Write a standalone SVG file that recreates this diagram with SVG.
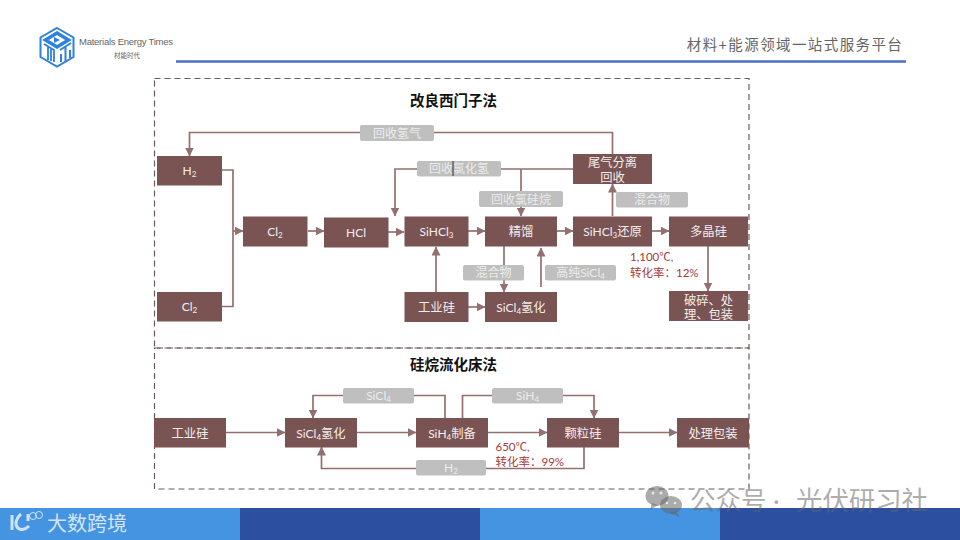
<svg xmlns="http://www.w3.org/2000/svg" width="960" height="540" viewBox="0 0 960 540">
<style>
text{font-family:"Lato","Noto Sans CJK SC",sans-serif}
.n rect{fill:#7a5353;stroke:none}
.n text{fill:#f3eeee;font-size:12px;text-anchor:middle}
.big text{font-size:12.300px}
.s{font-size:8px}
.c path{fill:none;stroke:#946f71;stroke-width:1.7}
.l rect{fill:#bfbfbf;stroke:none}
.l text{fill:#ececec;font-size:12px;text-anchor:middle}
.d{fill:none;stroke:#6d5a5c;stroke-width:1.2;stroke-dasharray:6 4}
.t{font-size:14.500px;font-weight:700;fill:#111;text-anchor:middle;font-family:"Noto Sans CJK SC",sans-serif}
.r{fill:#a63a3a;font-size:11.500px}
.b{fill:#4494e2}
</style>
<defs>
<marker id="a" markerUnits="userSpaceOnUse" markerWidth="10" markerHeight="10" refX="8.500" refY="4.500" orient="auto"><path d="M0 0L9 4.500L0 9Z" fill="#946f71"/></marker>
</defs>
<rect width="960" height="540" fill="#fff"/>

<g id="header">
<g id="logo" fill="none" stroke="#2f80e0">
<path d="M57 28L73.500 37.500V57L57 66.500L40.500 57V37.500Z" stroke-width="2"/>
<path d="M57 33L68.500 40L57 47L45.500 40Z" stroke-width="3.500"/>
<path d="M54 37L60 40L54 43Z" fill="#2f80e0" stroke="none"/>
<path d="M44 44L54 50V62M48 47V60M51 49V61" stroke-width="1.800"/>
<path d="M60 50L71 43M65.500 47V62M61 54V62M70 50V58" stroke-width="2"/>
</g>
<text x="79" y="45" font-size="9.500" fill="#666" textLength="94" style="font-family:'Liberation Sans',sans-serif">Materials Energy Times</text>
<text x="127" y="58" font-size="6.500" fill="#666" text-anchor="middle">材能时代</text>
<text x="795" y="50" font-size="14.500" fill="#666" text-anchor="middle" letter-spacing="1.400">材料+能源领域一站式服务平台</text>
<path d="M176 61.500H906" stroke="#4a72c0" stroke-width="2.600"/>
</g>

<g id="frames">
<rect class="d" x="154.500" y="78.500" width="594.500" height="269.500"/>
<rect class="d" x="154.500" y="348" width="594.500" height="141"/>
</g>

<text class="t" x="453.500" y="106">改良西门子法</text>
<text class="t" x="453.500" y="370">硅烷流化床法</text>

<g id="connectors" class="c">
<path d="M612.500 154V132.500H189.500V156" marker-end="url(#a)"/>
<path d="M573 169H395V216" marker-end="url(#a)"/>
<path d="M521 169V216" marker-end="url(#a)"/>
<path d="M222 170H233V306.500H222"/>
<path d="M233 231H243" marker-end="url(#a)"/>
<path d="M308 231H324" marker-end="url(#a)"/>
<path d="M388 232H404" marker-end="url(#a)"/>
<path d="M468 231H485" marker-end="url(#a)"/>
<path d="M557 231H573" marker-end="url(#a)"/>
<path d="M652 231H669" marker-end="url(#a)"/>
<path d="M612.500 216V184" marker-end="url(#a)"/>
<path d="M708 246V291" marker-end="url(#a)"/>
<path d="M504 246V292" marker-end="url(#a)"/>
<path d="M541 287V248" marker-end="url(#a)"/>
<path d="M436 292V247" marker-end="url(#a)"/>
<path d="M468 307H485" marker-end="url(#a)"/>
<path d="M226 432.500H285" marker-end="url(#a)"/>
<path d="M357 432.500H416" marker-end="url(#a)"/>
<path d="M488 432.500H547" marker-end="url(#a)"/>
<path d="M619 432.500H677" marker-end="url(#a)"/>
<path d="M445 418V395.500H313V418" marker-end="url(#a)"/>
<path d="M462.500 418V395.500H594V418" marker-end="url(#a)"/>
<path d="M584 447V468.500H321.500V447" marker-end="url(#a)"/>
</g>

<g id="labels" class="l">
<g><rect x="360" y="125" width="74" height="16" rx="2"/><text x="397" y="137.500">回收氢气</text></g>
<g><rect x="417" y="161" width="84" height="15.500" rx="2"/><text x="459" y="173">回收氯化氢</text><path d="M453 161V176" stroke="#333" stroke-width="1"/></g>
<g><rect x="479" y="191" width="84" height="16" rx="2"/><text x="521" y="203.500">回收氯硅烷</text></g>
<g><rect x="616" y="192" width="72" height="15.500" rx="2"/><text x="652" y="204">混合物</text></g>
<g><rect x="463" y="265" width="61" height="15.500" rx="2"/><text x="493.500" y="277">混合物</text></g>
<g><rect x="545" y="265" width="71" height="15.500" rx="2"/><text x="580.500" y="277">高纯SiCl<tspan class="s" dy="2">4</tspan></text></g>
<g><rect x="343" y="388" width="71" height="15.500" rx="2"/><text x="378.500" y="400">SiCl<tspan class="s" dy="2">4</tspan></text></g>
<g><rect x="492" y="388" width="71" height="15.500" rx="2"/><text x="527.500" y="400">SiH<tspan class="s" dy="2">4</tspan></text></g>
<g><rect x="416" y="460" width="70" height="15.500" rx="2"/><text x="451" y="472">H<tspan class="s" dy="2">2</tspan></text></g>
</g>

<g id="n-h2" class="n"><rect x="157" y="156" width="65" height="29.500"/><text x="189.500" y="175">H<tspan class="s" dy="2">2</tspan></text></g>
<g id="n-cl2a" class="n"><rect x="157" y="292" width="65" height="29.500"/><text x="189.500" y="311">Cl<tspan class="s" dy="2">2</tspan></text></g>
<g id="n-cl2b" class="n"><rect x="243" y="216.500" width="64.500" height="30"/><text x="275" y="236">Cl<tspan class="s" dy="2">2</tspan></text></g>
<g id="n-hcl" class="n"><rect x="324" y="217.500" width="64.500" height="30"/><text x="356" y="237">HCl</text></g>
<g id="n-sihcl3" class="n"><rect x="404.500" y="216.500" width="64" height="30"/><text x="436.500" y="236">SiHCl<tspan class="s" dy="2">3</tspan></text></g>
<g id="n-jl" class="n big"><rect x="485" y="216.500" width="72" height="30"/><text x="521" y="236">精馏</text></g>
<g id="n-hy" class="n"><rect x="573" y="216.500" width="79" height="30"/><text x="612.500" y="236">SiHCl<tspan class="s" dy="2">3</tspan><tspan dy="-2" font-size="12.300">还原</tspan></text></g>
<g id="n-djg" class="n big"><rect x="669" y="216.500" width="79" height="30"/><text x="708.500" y="236">多晶硅</text></g>
<g id="n-wq" class="n big"><rect x="573" y="154" width="79" height="30"/><text x="612.500" y="166.500">尾气分离</text><text x="612.500" y="181.500">回收</text></g>
<g id="n-gyg" class="n big"><rect x="404.500" y="292" width="64" height="30"/><text x="436.500" y="312">工业硅</text></g>
<g id="n-sicl4" class="n"><rect x="485" y="292" width="72" height="30"/><text x="521" y="312">SiCl<tspan class="s" dy="2">4</tspan><tspan dy="-2" font-size="12.300">氢化</tspan></text></g>
<g id="n-ps" class="n big"><rect x="669" y="291" width="79" height="30"/><text x="708.500" y="304.500">破碎、处</text><text x="708.500" y="319">理、包装</text></g>

<g id="m-gyg" class="n big"><rect x="154" y="418" width="72" height="29.500"/><text x="190" y="437.500">工业硅</text></g>
<g id="m-sicl4" class="n"><rect x="285" y="418" width="72" height="29.500"/><text x="321" y="437.500">SiCl<tspan class="s" dy="2">4</tspan><tspan dy="-2" font-size="12.300">氢化</tspan></text></g>
<g id="m-sih4" class="n"><rect x="416" y="418" width="72" height="29.500"/><text x="452" y="437.500">SiH<tspan class="s" dy="2">4</tspan><tspan dy="-2" font-size="12.300">制备</tspan></text></g>
<g id="m-klg" class="n big"><rect x="547" y="418" width="72" height="29.500"/><text x="583" y="437.500">颗粒硅</text></g>
<g id="m-cl" class="n big"><rect x="677" y="418" width="72" height="29.500"/><text x="713" y="437.500">处理包装</text></g>

<g id="notes">
<text class="r" x="630" y="261">1,100℃,</text>
<text class="r" x="630" y="277">转化率：12%</text>
<text class="r" x="495.500" y="451">650℃,</text>
<text class="r" x="495.500" y="466">转化率：99%</text>
</g>

<g id="footer">
<rect class="b" x="0" y="508" width="240" height="32"/>
<rect x="240" y="508" width="240" height="32" fill="#2c509f"/>
<rect class="b" x="480" y="508" width="240" height="32"/>
<rect x="720" y="508" width="240" height="32" fill="#2c509f"/>
<path d="M12 515V530M21 514C16 518 15 524 17 527C20 531 25 530 29 526M28 514V521" fill="none" stroke="#cfe2f7" stroke-width="3"/>
<circle cx="33" cy="516" r="3.500" fill="none" stroke="#cfe2f7"/><circle cx="39" cy="515" r="3.500" fill="none" stroke="#cfe2f7"/>
<text x="47" y="531" font-size="20" fill="#d3e4f7">大数跨境</text>
<g id="wm" fill="#666" fill-opacity=".55">
<ellipse cx="657" cy="496" rx="11.500" ry="10"/>
<path d="M652 503L650 510L658 505Z"/>
<ellipse cx="671" cy="505" rx="11" ry="9"/>
<path d="M676 511L680 517L670 513Z"/>
<text x="690" y="510" font-size="25.500">公众号</text>
<text x="773" y="510" font-size="25.500">·</text>
<text x="796" y="510" font-size="26.400">光伏研习社</text>
</g>
<g fill="#fff" fill-opacity=".7"><circle cx="653" cy="493" r="1.500"/><circle cx="661" cy="493" r="1.500"/><circle cx="667" cy="503" r="1.300"/><circle cx="675" cy="503" r="1.300"/></g>
</g>
</svg>
